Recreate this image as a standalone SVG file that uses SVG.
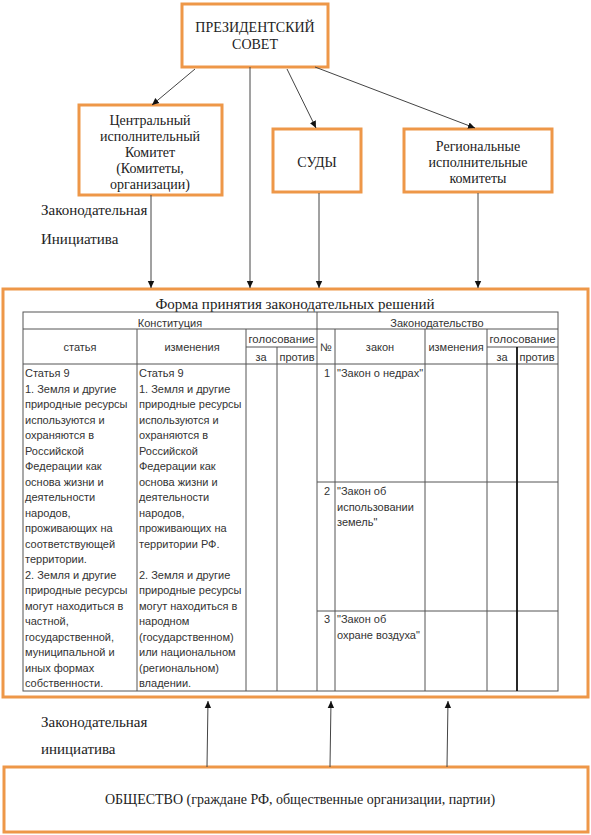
<svg xmlns="http://www.w3.org/2000/svg" width="591" height="835" viewBox="0 0 591 835">
<defs>
<marker id="ah" markerWidth="8" markerHeight="8" refX="7" refY="4" orient="auto" markerUnits="userSpaceOnUse">
<path d="M0,0.8 L7,4 L0,7.2 Z" fill="#111"/>
</marker>
<style>
.box{fill:#fff;stroke:#EE9748;stroke-width:3}
.c{text-anchor:middle}
.conn{stroke:#444;stroke-width:1;fill:none}
.tl{stroke:#555;stroke-width:1;fill:none}
</style>
</defs>
<rect width="591" height="835" fill="#fff"/>

<g id="n-president" font-family="Liberation Serif" font-size="14" fill="#222">
<rect class="box" x="182" y="4" width="146" height="63"/>
<text class="c" x="255" y="32">ПРЕЗИДЕНТСКИЙ</text>
<text class="c" x="255" y="49">СОВЕТ</text>
</g>

<g id="n-central" font-family="Liberation Serif" font-size="14" fill="#222">
<rect class="box" x="79" y="105" width="143" height="90"/>
<text class="c" x="150" y="125">Центральный</text>
<text class="c" x="150" y="141">исполнительный</text>
<text class="c" x="150" y="157">Комитет</text>
<text class="c" x="150" y="173">(Комитеты,</text>
<text class="c" x="150" y="189">организации)</text>
</g>

<g id="n-courts" font-family="Liberation Serif" font-size="14" fill="#222">
<rect class="box" x="273" y="129" width="88" height="63"/>
<text class="c" x="317" y="167">СУДЫ</text>
</g>

<g id="n-regional" font-family="Liberation Serif" font-size="14" fill="#222">
<rect class="box" x="404" y="129" width="148" height="63"/>
<text class="c" x="478" y="151">Региональные</text>
<text class="c" x="478" y="167">исполнительные</text>
<text class="c" x="478" y="183">комитеты</text>
</g>

<g id="labels-top" font-family="Liberation Serif" font-size="15" fill="#222">
<text x="41" y="215">Законодательная</text>
<text x="41" y="244">Инициатива</text>
</g>

<g id="n-form">
<rect class="box" x="3" y="289" width="585" height="408"/>
<text class="c" x="295" y="309" font-size="15" font-family="Liberation Serif" fill="#222">Форма принятия законодательных решений</text>
<g id="table">
<rect class="tl" x="23" y="312" width="535" height="379"/>
<path class="tl" d="M23,329H558 M246,347H317 M487,347H558 M23,364H558 M317,482H558 M317,611H558
M137,329V691 M246,329V691 M277,347V691 M317,312V691 M335,329V691 M425,329V691 M487,329V691"/>
<path d="M517,347V691" stroke="#111" stroke-width="1.8"/>
<g font-family="Liberation Sans" font-size="11" fill="#333">
<text class="c" x="170" y="327">Конституция</text>
<text class="c" x="437" y="327">Законодательство</text>
<text class="c" x="80" y="351">статья</text>
<text class="c" x="192" y="351">изменения</text>
<text class="c" x="281.5" y="343" textLength="66" lengthAdjust="spacingAndGlyphs">голосование</text>
<text class="c" x="261" y="361">за</text>
<text class="c" x="297" y="361">против</text>
<text class="c" x="326" y="351">№</text>
<text class="c" x="380" y="351">закон</text>
<text class="c" x="456" y="351">изменения</text>
<text class="c" x="522.5" y="343" textLength="66" lengthAdjust="spacingAndGlyphs">голосование</text>
<text class="c" x="502" y="361">за</text>
<text class="c" x="537" y="361">против</text>

<text x="25" y="377">Статья 9</text>
<text x="25" y="392.5">1. Земля и другие</text>
<text x="25" y="408">природные ресурсы</text>
<text x="25" y="423.5">используются и</text>
<text x="25" y="439">охраняются в</text>
<text x="25" y="454.5">Российской</text>
<text x="25" y="470">Федерации как</text>
<text x="25" y="485.5">основа жизни и</text>
<text x="25" y="501">деятельности</text>
<text x="25" y="516.5">народов,</text>
<text x="25" y="532">проживающих на</text>
<text x="25" y="547.5">соответствующей</text>
<text x="25" y="563">территории.</text>
<text x="25" y="578.5">2. Земля и другие</text>
<text x="25" y="594">природные ресурсы</text>
<text x="25" y="609.5">могут находиться в</text>
<text x="25" y="625">частной,</text>
<text x="25" y="640.5">государственной,</text>
<text x="25" y="656">муниципальной и</text>
<text x="25" y="671.5">иных формах</text>
<text x="25" y="687">собственности.</text>

<text x="139" y="377">Статья 9</text>
<text x="139" y="392.5">1. Земля и другие</text>
<text x="139" y="408">природные ресурсы</text>
<text x="139" y="423.5">используются и</text>
<text x="139" y="439">охраняются в</text>
<text x="139" y="454.5">Российской</text>
<text x="139" y="470">Федерации как</text>
<text x="139" y="485.5">основа жизни и</text>
<text x="139" y="501">деятельности</text>
<text x="139" y="516.5">народов,</text>
<text x="139" y="532">проживающих на</text>
<text x="139" y="547.5">территории РФ.</text>
<text x="139" y="578.5">2. Земля и другие</text>
<text x="139" y="594">природные ресурсы</text>
<text x="139" y="609.5">могут находиться в</text>
<text x="139" y="625">народном</text>
<text x="139" y="640.5">(государственном)</text>
<text x="139" y="656">или национальном</text>
<text x="139" y="671.5">(региональном)</text>
<text x="139" y="687">владении.</text>

<text class="c" x="327" y="377">1</text>
<text x="337" y="377">"Закон о недрах"</text>
<text class="c" x="327" y="495">2</text>
<text x="337" y="495">"Закон об</text>
<text x="337" y="511">использовании</text>
<text x="337" y="526">земель"</text>
<text class="c" x="327" y="623">3</text>
<text x="337" y="623">"Закон об</text>
<text x="337" y="639">охране воздуха"</text>
</g>
</g>
</g>

<g id="labels-bottom" font-family="Liberation Serif" font-size="15" fill="#222">
<text x="41" y="727">Законодательная</text>
<text x="41" y="754">инициатива</text>
</g>

<g id="n-society" font-family="Liberation Serif" font-size="14" fill="#222">
<rect class="box" x="4" y="767" width="584" height="65"/>
<text class="c" x="300" y="804">ОБЩЕСТВО (граждане РФ, общественные организации, партии)</text>
</g>

<g id="connectors">
<line class="conn" x1="195" y1="69" x2="152" y2="105" marker-end="url(#ah)"/>
<line class="conn" x1="250" y1="67" x2="250" y2="288" marker-end="url(#ah)"/>
<line class="conn" x1="287" y1="69" x2="316" y2="128" marker-end="url(#ah)"/>
<line class="conn" x1="315" y1="67" x2="475" y2="128" marker-end="url(#ah)"/>
<line class="conn" x1="151" y1="195" x2="151" y2="288" marker-end="url(#ah)"/>
<line class="conn" x1="319" y1="193" x2="319" y2="288" marker-end="url(#ah)"/>
<line class="conn" x1="478" y1="193" x2="478" y2="288" marker-end="url(#ah)"/>
<line class="conn" x1="207" y1="767" x2="208" y2="701" marker-end="url(#ah)"/>
<line class="conn" x1="330" y1="767" x2="331" y2="701" marker-end="url(#ah)"/>
<line class="conn" x1="447" y1="767" x2="448" y2="701" marker-end="url(#ah)"/>
</g>
</svg>
